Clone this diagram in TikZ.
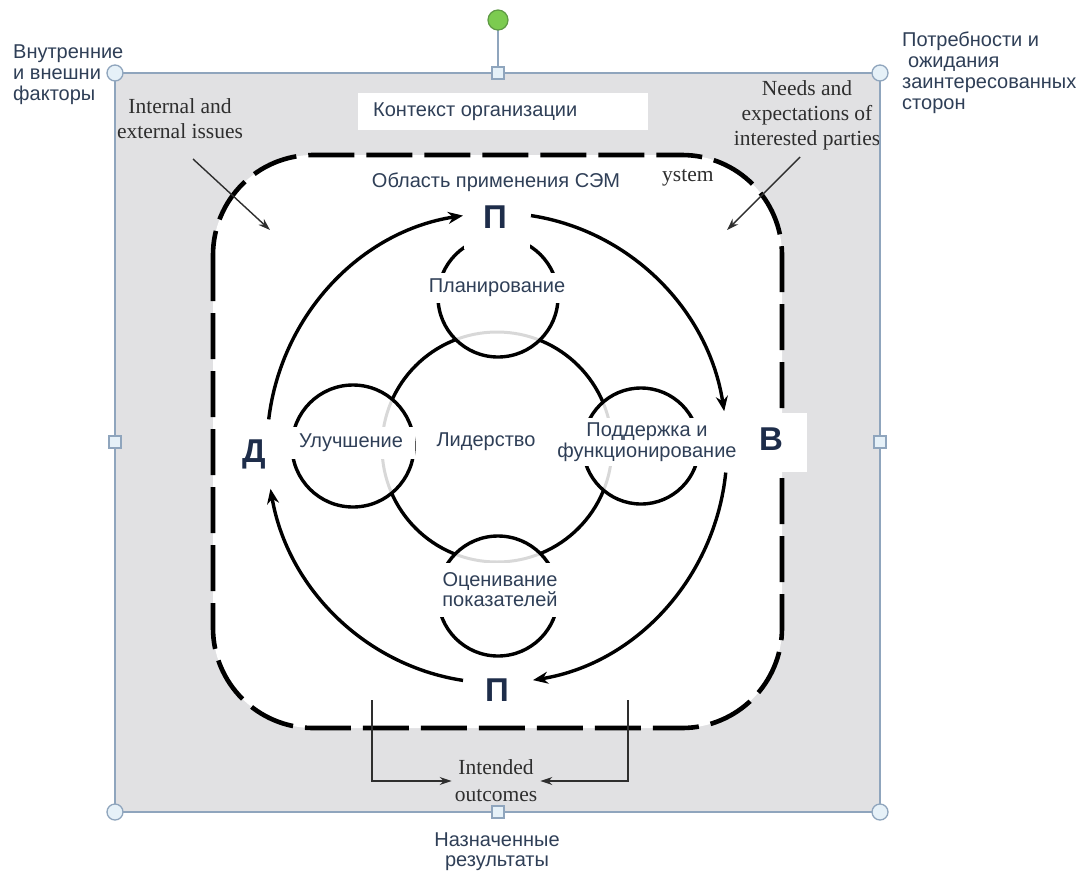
\documentclass[tikz,border=0pt]{standalone}
\usepackage{fontspec}
\setmainfont{Liberation Sans}
\newfontfamily\serifen{Liberation Serif}
\usetikzlibrary{arrows.meta,calc}
\definecolor{framegray}{HTML}{E1E1E3}
\definecolor{framebd}{HTML}{8FA5BD}
\definecolor{labcol}{HTML}{2F3F57}
\definecolor{lettercol}{HTML}{1E2D4A}
\definecolor{engcol}{HTML}{2E2E2E}
\definecolor{fadecol}{HTML}{D8D8D8}
\definecolor{handlefill}{HTML}{E6F1F8}
\definecolor{greenfill}{HTML}{7CCB50}
\definecolor{greenbd}{HTML}{5E9A44}
\begin{document}
\begin{tikzpicture}[x=1pt,y=1pt,
  ru/.style={font=\fontsize{20}{21}\selectfont, text=labcol, inner sep=0pt},
  eng/.style={font=\serifen\fontsize{21.5}{25}\selectfont, text=engcol, align=center, inner sep=0pt},
  letter/.style={font=\bfseries\fontsize{33}{33}\selectfont, text=lettercol, inner sep=0pt},
  ring/.style={line width=3.4pt, black},
  cycarrow/.style={line width=3.4pt, black, -{Stealth[length=15pt,width=12pt]}},
  pointer/.style={line width=1.4pt, engcol, -{Stealth[length=12pt,width=8pt]}},
  handle/.style={draw=framebd, line width=1.3pt, fill=handlefill},
]
\useasboundingbox (0,0) rectangle (1083,-873);
\fill[white] (0,0) rectangle (1083,-873);

\begin{scope}
\clip (115,-73) rectangle (880,-812);
\fill[framegray] (115,-73) rectangle (880,-812);
\fill[white, rounded corners=100pt] (213,-155) rectangle (782,-728);

% context box
\fill[white] (358,-93) rectangle (648,-130);
\node[ru, anchor=west] (ctx) at (373,-112) {Контекст организации};

% dashed scope boundary
\draw[line width=4.6pt, dash pattern=on 46pt off 12pt, rounded corners=100pt] (213,-155) rectangle (782,-728);

\node[ru] (scopelab) at (496,-182) {Область применения СЭМ};
\node[eng, anchor=west] (sys) at (662,-178) {ystem};
\node[eng] (iss) at (180,-119) {Internal and\\external issues};
\node[eng] (needs) at (807,-115) {Needs and\\expectations of\\interested parties};

% circles
\coordinate (C) at (497,-447);
\coordinate (T) at (498,-297);
\coordinate (Bc) at (498,-596);
\coordinate (L) at (353,-446);
\coordinate (R) at (641,-446);
\coordinate (E) at (497,-448);

\draw[ring] (C) circle[radius=115];
\fill[white] (T) circle[radius=60] (Bc) circle[radius=60] (L) circle[radius=61] (R) circle[radius=58];
\begin{scope}
\clip (T) circle[radius=60] (Bc) circle[radius=60] (L) circle[radius=61] (R) circle[radius=58];
\draw[line width=3pt, fadecol] (C) circle[radius=115];
\end{scope}
\draw[ring] (T) circle[radius=60];
\draw[ring] (Bc) circle[radius=60];
\draw[ring] (L) circle[radius=61];
\draw[ring] (R) circle[radius=58];

\node[ru, fill=white, inner xsep=3pt, inner ysep=6pt] (plan) at (497,-288) {Планирование};
\node[ru, fill=white, inner xsep=12pt, inner ysep=7pt] (impr) at (351,-443) {Улучшение};
\node[ru] (lead) at (486,-442) {Лидерство};
\node[ru, fill=white, align=center, inner xsep=2pt, inner ysep=5pt] (supp) at (647,-442) {Поддержка и\\функционирование};
\node[ru, fill=white, align=center, inner xsep=9pt, inner ysep=10pt, font=\fontsize{20}{20}\selectfont] (eval) at (500,-590) {Оценивание\\показателей};

% PDCA letters
\fill[white] (464,-198) rectangle (530,-249);
\node[letter] (Pt) at (495,-217) {П};
\node[letter] (Pb) at (497,-690) {П};
\node[letter] (Dl) at (254,-454) {Д};
\fill[white] (755,-413) rectangle (807,-472);
\node[letter] (Vr) at (771,-439) {В};

% cycle arrows
\draw[cycarrow] (E) ++(173:230 and 235) arc[start angle=173, end angle=98.5, x radius=230, y radius=235];
\draw[cycarrow] (E) ++(81.5:230 and 235) arc[start angle=81.5, end angle=9, x radius=230, y radius=235];
\draw[cycarrow] (E) ++(-6:230 and 235) arc[start angle=-6, end angle=-81, x radius=230, y radius=235];
\draw[cycarrow] (E) ++(-98.5:230 and 235) arc[start angle=-98.5, end angle=-170, x radius=230, y radius=235];

% input pointers
\coordinate (iA) at (193,-159);
\coordinate (iB) at (270,-230);
\draw[pointer] (iA) -- (iB);
\coordinate (nA) at (800,-157);
\coordinate (nB) at (727,-230);
\draw[pointer] (nA) -- (nB);

% outcomes
\node[eng, inner xsep=3pt, font=\serifen\fontsize{21.5}{27}\selectfont] (io) at (496,-781) {Intended\\outcomes};
\coordinate (oL) at (372,-700);
\coordinate (oR) at (628,-700);
\draw[pointer] (oL) |- (io.west);
\draw[pointer] (oR) |- (io.east);
\end{scope}

% outer labels
\node[ru, align=left, anchor=west] (vnf) at (13,-75) {Внутренние\\и внешни\\факторы};
\node[ru, align=left, anchor=west] (potr) at (902,-73) {Потребности и\\\hspace{6pt}ожидания\\заинтересованных\\сторон};
\node[ru, align=center, font=\fontsize{20}{20}\selectfont] (nazn) at (497,-852) {Назначенные\\результаты};

% selection frame and handles
\draw[framebd, line width=1.6pt] (115,-73) rectangle (880,-812);
\draw[framebd, line width=1.8pt] (498,-30) -- (498,-67);
\draw[draw=greenbd, line width=1.2pt, fill=greenfill] (498,-20) circle[radius=10];
\foreach \p in {(115,-73),(880,-73),(115,-812),(880,-812)}
  \draw[handle] \p circle[radius=8];
\foreach \p in {(498,-73),(115,-442),(880,-442),(498,-812)}
  \draw[handle] \p ++(-6,-6) rectangle ++(12,12);
\end{tikzpicture}
\end{document}
